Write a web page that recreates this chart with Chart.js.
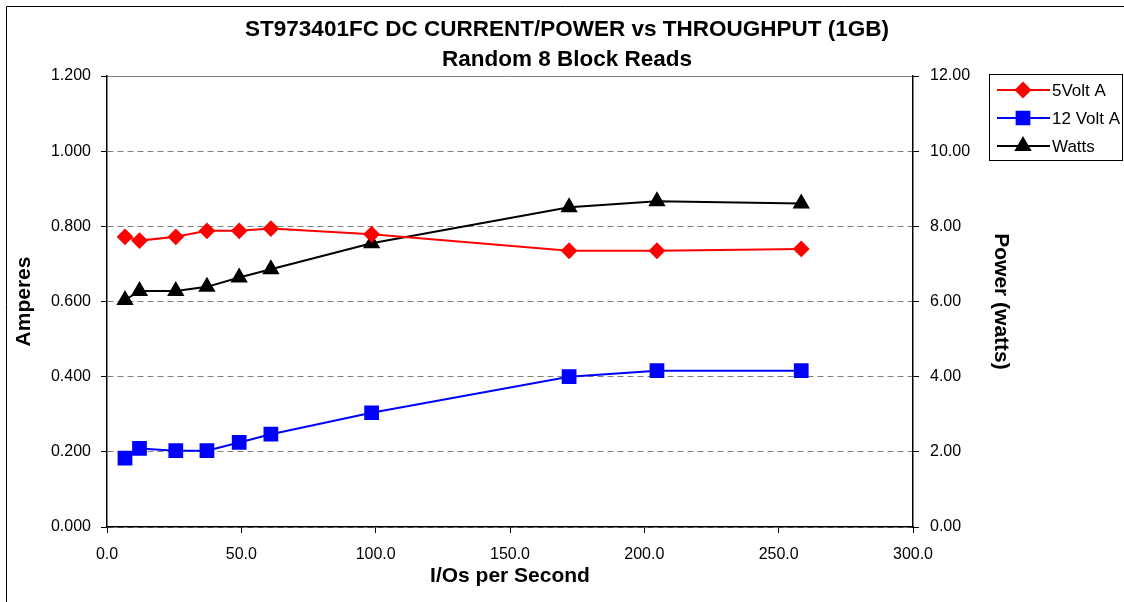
<!DOCTYPE html>
<html>
<head>
<meta charset="utf-8">
<script src="https://cdn.jsdelivr.net/npm/chart.js@4.4.0/dist/chart.umd.min.js"></script>
<style>
  html, body { margin: 0; padding: 0; background: #fff; }
  #wrap { width: 1124px; height: 602px; }
</style>
</head>
<body>
<div id="wrap"><canvas id="chart" width="1124" height="602"></canvas></div>
<script>
// data
const iops = [6.7, 12.1, 25.6, 37.2, 49.2, 61.0, 98.5, 172.0, 204.7, 258.4];
const volt5Amps = [0.772, 0.762, 0.772, 0.788, 0.788, 0.794, 0.779, 0.735, 0.735, 0.740];
const volt12Amps = [0.183, 0.209, 0.203, 0.203, 0.225, 0.247, 0.304, 0.400, 0.416, 0.416];
const watts = [6.04, 6.28, 6.28, 6.39, 6.64, 6.86, 7.55, 8.51, 8.67, 8.61];
const seriesNames = ['5Volt A', '12 Volt A', 'Watts'];
const titleLines = ['ST973401FC DC CURRENT/POWER vs THROUGHPUT (1GB)', 'Random 8 Block Reads'];
// data

const FONT = "'Liberation Sans', Arial, sans-serif";
const pts = (ys) => iops.map((x, i) => ({x: x, y: ys[i]}));

// outer frame + legend box
const frameAndLegend = {
    id: 'frameAndLegend',
    beforeDraw(chart) {
        const ctx = chart.ctx;
        ctx.save();
        ctx.fillStyle = '#fff';
        ctx.fillRect(0, 0, chart.width, chart.height);
        ctx.strokeStyle = '#000';
        ctx.lineWidth = 1;
        ctx.beginPath();
        ctx.moveTo(6.5, chart.height);
        ctx.lineTo(6.5, 6.5);
        ctx.lineTo(chart.width, 6.5);
        ctx.stroke();
        ctx.restore();
    },
    afterDraw(chart) {
        const ctx = chart.ctx;
        ctx.save();
        ctx.strokeStyle = '#000';
        ctx.lineWidth = 1;
        ctx.strokeRect(989.5, 74.5, 133, 86);
        const rowY = [90, 118, 146];
        chart.data.datasets.forEach((ds, i) => {
            const y = rowY[i];
            ctx.strokeStyle = ds.borderColor;
            ctx.lineWidth = ds.borderWidth;
            ctx.beginPath();
            ctx.moveTo(997, y);
            ctx.lineTo(1050, y);
            ctx.stroke();
            ctx.fillStyle = ds.backgroundColor;
            ctx.strokeStyle = ds.borderColor;
            Chart.helpers.drawPoint(ctx, {
                pointStyle: ds.pointStyle,
                radius: ds.pointRadius,
                rotation: 0,
                borderWidth: 1
            }, 1023, y);
            ctx.fillStyle = '#000';
            ctx.font = '17px ' + FONT;
            ctx.textBaseline = 'middle';
            ctx.textAlign = 'left';
            ctx.fillText(seriesNames[i], 1052, y + 1);
        });
        ctx.restore();
    }
};

new Chart(document.getElementById('chart'), {
    type: 'line',
    data: {
        datasets: [{
            label: seriesNames[0],
            data: pts(volt5Amps),
            yAxisID: 'y',
            borderColor: '#ff0000',
            backgroundColor: '#ff0000',
            borderWidth: 2,
            pointStyle: 'rectRot',
            pointRadius: 7,
            pointHoverRadius: 7
        }, {
            label: seriesNames[1],
            data: pts(volt12Amps),
            yAxisID: 'y',
            borderColor: '#0000ff',
            backgroundColor: '#0000ff',
            borderWidth: 2,
            pointStyle: 'rect',
            pointRadius: 9,
            pointHoverRadius: 9
        }, {
            label: seriesNames[2],
            data: pts(watts),
            yAxisID: 'y1',
            borderColor: '#000000',
            backgroundColor: '#000000',
            borderWidth: 2,
            pointStyle: 'triangle',
            pointRadius: 8,
            pointHoverRadius: 8
        }]
    },
    options: {
        responsive: false,
        animation: false,
        events: [],
        layout: { padding: { left: 10, right: 0, top: 0, bottom: 0 } },
        plugins: {
            legend: { display: false },
            tooltip: { enabled: false },
            title: {
                display: true,
                text: titleLines,
                color: '#000',
                font: { family: FONT, size: 22.5, weight: 'bold', lineHeight: 30 / 22.5 },
                padding: { top: 15, bottom: 1 }
            }
        },
        scales: {
            x: {
                type: 'linear',
                min: 0,
                max: 300,
                ticks: {
                    stepSize: 50,
                    color: '#000',
                    font: { family: FONT, size: 16 },
                    padding: 12,
                    callback: v => v.toFixed(1)
                },
                grid: { drawOnChartArea: false, drawTicks: true, tickLength: 6, tickColor: '#000' },
                border: { color: '#000', width: 1.5 },
                title: {
                    display: true,
                    text: 'I/Os per Second',
                    color: '#000',
                    font: { family: FONT, size: 21, weight: 'bold' },
                    padding: { top: 0, bottom: 13 }
                },
                afterFit(scale) { scale.height = 75; }
            },
            y: {
                position: 'left',
                min: 0,
                max: 1.2,
                ticks: {
                    stepSize: 0.2,
                    color: '#000',
                    font: { family: FONT, size: 16 },
                    padding: 10,
                    callback: v => v.toFixed(3)
                },
                grid: {
                    color: '#808080',
                    lineWidth: 1,
                    tickLength: 6,
                    tickColor: '#000'
                },
                border: {
                    color: '#000',
                    width: 1.5,
                    dash: ctx => (ctx.tick && Math.abs(ctx.tick.value - 1.2) < 1e-6) ? [] : [6, 4]
                },
                title: {
                    display: true,
                    text: 'Amperes',
                    color: '#000',
                    font: { family: FONT, size: 21, weight: 'bold' },
                    padding: { top: 2, bottom: 0 }
                },
                afterFit(scale) { scale.width = 97; }
            },
            y1: {
                position: 'right',
                min: 0,
                max: 12,
                ticks: {
                    stepSize: 2,
                    color: '#000',
                    font: { family: FONT, size: 16 },
                    padding: 11,
                    callback: v => v.toFixed(2)
                },
                grid: { drawOnChartArea: false, drawTicks: true, tickLength: 6, tickColor: '#000' },
                border: { color: '#000', width: 1.5 },
                title: {
                    display: true,
                    text: 'Power (watts)',
                    color: '#000',
                    font: { family: FONT, size: 21, weight: 'bold' },
                    padding: { top: 111, bottom: 0 }
                },
                afterFit(scale) { scale.width = 211; }
            }
        }
    },
    plugins: [frameAndLegend]
});
</script>
</body>
</html>
